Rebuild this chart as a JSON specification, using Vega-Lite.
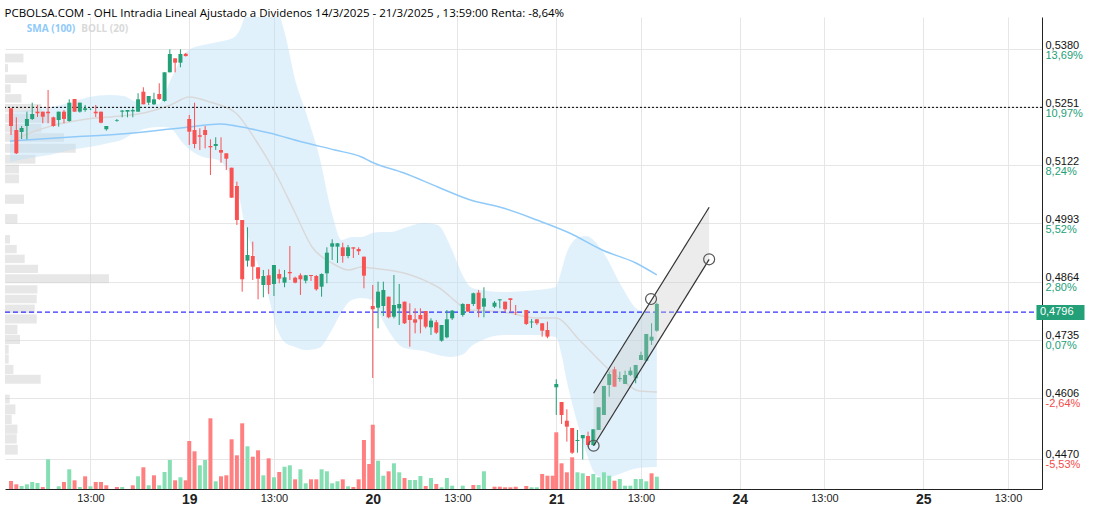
{
"$schema": "https://vega.github.io/schema/vega-lite/v6.json",
"autosize": {"type": "none"},
"width": 1037,
"height": 472,
"padding": {"left": 5, "top": 17, "right": 54, "bottom": 23},
"background": "white",
"title": {"text": "PCBOLSA.COM - OHL Intradia Lineal Ajustado a Dividenos 14/3/2025 - 21/3/2025 , 13:59:00 Renta: -8,64%", "anchor": "start", "font": "Open Sans", "fontSize": 11.5, "fontWeight": "normal", "color": "#000", "offset": -2},
"config": {"view": {"stroke": null}, "font": "Liberation Sans"},
"datasets": {
"candles": [
{"t":15,"o":0.52489,"h":0.52489,"l":0.51896,"c":0.52096},
{"t":30,"o":0.52007,"h":0.52289,"l":0.51474,"c":0.51489},
{"t":45,"o":0.51963,"h":0.52096,"l":0.51807,"c":0.52052},
{"t":60,"o":0.52096,"h":0.52414,"l":0.518,"c":0.52252},
{"t":75,"o":0.52252,"h":0.52614,"l":0.52229,"c":0.52363},
{"t":90,"o":0.52414,"h":0.52563,"l":0.52296,"c":0.52378},
{"t":105,"o":0.52414,"h":0.52414,"l":0.52156,"c":0.52303},
{"t":120,"o":0.52414,"h":0.52896,"l":0.52156,"c":0.52378},
{"t":135,"o":0.52289,"h":0.52303,"l":0.52081,"c":0.52096},
{"t":150,"o":0.52229,"h":0.52414,"l":0.52081,"c":0.52414},
{"t":165,"o":0.52414,"h":0.52452,"l":0.52156,"c":0.52252},
{"t":180,"o":0.52207,"h":0.52689,"l":0.52192,"c":0.52614},
{"t":195,"o":0.52696,"h":0.52696,"l":0.52414,"c":0.52414},
{"t":210,"o":0.52414,"h":0.52614,"l":0.52392,"c":0.52614},
{"t":225,"o":0.52452,"h":0.52563,"l":0.52414,"c":0.52489},
{"t":240,"o":0.5247,"h":0.5249,"l":0.5245,"c":0.52475},
{"t":255,"o":0.52414,"h":0.52563,"l":0.52296,"c":0.52378},
{"t":270,"o":0.52414,"h":0.52414,"l":0.52156,"c":0.52169},
{"t":285,"o":0.52023,"h":0.52096,"l":0.51992,"c":0.52096},
{"t":315,"o":0.5221,"h":0.5225,"l":0.5219,"c":0.52225},
{"t":330,"o":0.52414,"h":0.52452,"l":0.52289,"c":0.52438},
{"t":345,"o":0.52414,"h":0.52452,"l":0.52289,"c":0.52452},
{"t":360,"o":0.5242,"h":0.52489,"l":0.52289,"c":0.5245},
{"t":375,"o":0.52414,"h":0.52823,"l":0.52414,"c":0.52689},
{"t":390,"o":0.52858,"h":0.52956,"l":0.52578,"c":0.52578},
{"t":405,"o":0.52614,"h":0.52763,"l":0.52563,"c":0.52763},
{"t":420,"o":0.52578,"h":0.52836,"l":0.52563,"c":0.52689},
{"t":435,"o":0.52807,"h":0.53045,"l":0.52674,"c":0.52696},
{"t":450,"o":0.52652,"h":0.53289,"l":0.52636,"c":0.53289},
{"t":465,"o":0.53289,"h":0.538,"l":0.53289,"c":0.53696},
{"t":480,"o":0.536,"h":0.536,"l":0.53289,"c":0.53503},
{"t":495,"o":0.53503,"h":0.538,"l":0.534,"c":0.53696},
{"t":510,"o":0.537,"h":0.5372,"l":0.5364,"c":0.5365},
{"t":520,"o":0.52252,"h":0.5234,"l":0.51674,"c":0.51969},
{"t":535,"o":0.52007,"h":0.52614,"l":0.516,"c":0.51696},
{"t":550,"o":0.51889,"h":0.52045,"l":0.51563,"c":0.51858},
{"t":565,"o":0.52007,"h":0.52096,"l":0.516,"c":0.51896},
{"t":580,"o":0.51652,"h":0.518,"l":0.51007,"c":0.51622},
{"t":595,"o":0.51652,"h":0.51845,"l":0.51563,"c":0.51696},
{"t":610,"o":0.51563,"h":0.51845,"l":0.5128,"c":0.51503},
{"t":625,"o":0.51489,"h":0.51489,"l":0.51118,"c":0.51369},
{"t":640,"o":0.51169,"h":0.51169,"l":0.50503,"c":0.50503},
{"t":655,"o":0.50763,"h":0.50858,"l":0.49896,"c":0.50007},
{"t":670,"o":0.50007,"h":0.50007,"l":0.48414,"c":0.48689},
{"t":685,"o":0.49103,"h":0.49845,"l":0.48969,"c":0.49229},
{"t":700,"o":0.49207,"h":0.49525,"l":0.48674,"c":0.48969},
{"t":715,"o":0.48956,"h":0.48956,"l":0.48245,"c":0.48703},
{"t":730,"o":0.48563,"h":0.48896,"l":0.48289,"c":0.48763},
{"t":745,"o":0.48778,"h":0.48911,"l":0.48363,"c":0.48563},
{"t":760,"o":0.48585,"h":0.49007,"l":0.48318,"c":0.49007},
{"t":775,"o":0.48807,"h":0.48911,"l":0.486,"c":0.48703},
{"t":790,"o":0.48614,"h":0.48896,"l":0.48512,"c":0.48733},
{"t":805,"o":0.48852,"h":0.49429,"l":0.48674,"c":0.48822},
{"t":820,"o":0.48725,"h":0.48747,"l":0.486,"c":0.48614},
{"t":835,"o":0.48778,"h":0.48822,"l":0.48341,"c":0.48689},
{"t":850,"o":0.48659,"h":0.48785,"l":0.486,"c":0.48778},
{"t":865,"o":0.48785,"h":0.48785,"l":0.48652,"c":0.48763},
{"t":880,"o":0.48763,"h":0.48785,"l":0.48436,"c":0.48467},
{"t":895,"o":0.48525,"h":0.48822,"l":0.48303,"c":0.48807},
{"t":910,"o":0.48822,"h":0.494,"l":0.486,"c":0.49281},
{"t":925,"o":0.49414,"h":0.49578,"l":0.49118,"c":0.49489},
{"t":940,"o":0.49414,"h":0.49496,"l":0.49052,"c":0.49489},
{"t":955,"o":0.494,"h":0.49503,"l":0.49059,"c":0.49207},
{"t":970,"o":0.49207,"h":0.49452,"l":0.49156,"c":0.494},
{"t":985,"o":0.494,"h":0.494,"l":0.49163,"c":0.4937},
{"t":1000,"o":0.49363,"h":0.494,"l":0.49229,"c":0.49312},
{"t":1015,"o":0.49192,"h":0.49192,"l":0.48489,"c":0.4877},
{"t":1040,"o":0.48096,"h":0.48563,"l":0.46496,"c":0.48023},
{"t":1055,"o":0.48058,"h":0.48636,"l":0.476,"c":0.48414},
{"t":1070,"o":0.48096,"h":0.48636,"l":0.47874,"c":0.48452},
{"t":1085,"o":0.48303,"h":0.48303,"l":0.47822,"c":0.47845},
{"t":1100,"o":0.47859,"h":0.48785,"l":0.47822,"c":0.48118},
{"t":1115,"o":0.48045,"h":0.48585,"l":0.47674,"c":0.48141},
{"t":1130,"o":0.48192,"h":0.48192,"l":0.47696,"c":0.47712},
{"t":1145,"o":0.47896,"h":0.48156,"l":0.47192,"c":0.47785},
{"t":1160,"o":0.478,"h":0.48045,"l":0.47489,"c":0.47725},
{"t":1175,"o":0.47896,"h":0.48045,"l":0.47489,"c":0.478},
{"t":1190,"o":0.47985,"h":0.47985,"l":0.476,"c":0.47636},
{"t":1205,"o":0.47622,"h":0.47822,"l":0.47452,"c":0.4777},
{"t":1220,"o":0.47734,"h":0.47785,"l":0.47474,"c":0.47503},
{"t":1235,"o":0.47325,"h":0.47674,"l":0.47303,"c":0.47674},
{"t":1250,"o":0.474,"h":0.48007,"l":0.47378,"c":0.478},
{"t":1265,"o":0.47822,"h":0.48007,"l":0.47785,"c":0.47992},
{"t":1295,"o":0.47896,"h":0.48156,"l":0.47859,"c":0.48141},
{"t":1310,"o":0.48141,"h":0.48141,"l":0.4797,"c":0.4797},
{"t":1325,"o":0.48141,"h":0.48392,"l":0.48096,"c":0.48378},
{"t":1340,"o":0.48392,"h":0.48452,"l":0.47845,"c":0.48023},
{"t":1355,"o":0.48081,"h":0.48512,"l":0.47845,"c":0.48267},
{"t":1385,"o":0.48081,"h":0.48207,"l":0.48052,"c":0.4817},
{"t":1400,"o":0.48222,"h":0.48244,"l":0.48045,"c":0.48244},
{"t":1415,"o":0.48192,"h":0.48192,"l":0.4797,"c":0.48023},
{"t":1430,"o":0.48267,"h":0.48267,"l":0.4797,"c":0.48229},
{"t":1445,"o":0.4795,"h":0.48118,"l":0.47896,"c":0.4794},
{"t":1475,"o":0.48007,"h":0.48007,"l":0.47674,"c":0.47696},
{"t":1490,"o":0.4773,"h":0.47807,"l":0.47607,"c":0.4775},
{"t":1505,"o":0.478,"h":0.478,"l":0.47674,"c":0.47712},
{"t":1520,"o":0.47712,"h":0.47712,"l":0.47414,"c":0.47547},
{"t":1535,"o":0.47563,"h":0.47748,"l":0.47378,"c":0.47414},
{"t":1560,"o":0.46289,"h":0.46467,"l":0.45674,"c":0.46363},
{"t":1575,"o":0.45963,"h":0.45963,"l":0.45474,"c":0.45674},
{"t":1590,"o":0.45547,"h":0.458,"l":0.45081,"c":0.45414},
{"t":1605,"o":0.45385,"h":0.45385,"l":0.44807,"c":0.44836},
{"t":1620,"o":0.45096,"h":0.45341,"l":0.44836,"c":0.45118},
{"t":1635,"o":0.45156,"h":0.45229,"l":0.44685,"c":0.45229},
{"t":1650,"o":0.45207,"h":0.45303,"l":0.4497,"c":0.45007},
{"t":1665,"o":0.45007,"h":0.45356,"l":0.44985,"c":0.45356},
{"t":1680,"o":0.45341,"h":0.45845,"l":0.45341,"c":0.45845},
{"t":1695,"o":0.45674,"h":0.46318,"l":0.45674,"c":0.46318},
{"t":1710,"o":0.46341,"h":0.46636,"l":0.46081,"c":0.46585},
{"t":1725,"o":0.46689,"h":0.46747,"l":0.46303,"c":0.46303},
{"t":1740,"o":0.46474,"h":0.46636,"l":0.46414,"c":0.46496},
{"t":1755,"o":0.46363,"h":0.46659,"l":0.46363,"c":0.46563},
{"t":1770,"o":0.46563,"h":0.46733,"l":0.4654,"c":0.46659},
{"t":1785,"o":0.46489,"h":0.46785,"l":0.46378,"c":0.46785},
{"t":1800,"o":0.46896,"h":0.47081,"l":0.46896,"c":0.47007},
{"t":1815,"o":0.46881,"h":0.47474,"l":0.46881,"c":0.47474},
{"t":1830,"o":0.47325,"h":0.47711,"l":0.47229,"c":0.47414},
{"t":1845,"o":0.47547,"h":0.4817,"l":0.47524,"c":0.48141}
],
"vol": [
{"t":15,"v":160,"up":false},{"t":30,"v":94,"up":false},{"t":45,"v":60,"up":true},{"t":60,"v":94,"up":true},{"t":75,"v":140,"up":true},{"t":90,"v":120,"up":true},{"t":105,"v":40,"up":false},{"t":120,"v":594,"up":true},{"t":150,"v":54,"up":true},{"t":165,"v":140,"up":false},{"t":180,"v":394,"up":true},{"t":195,"v":174,"up":false},{"t":210,"v":40,"up":true},{"t":225,"v":254,"up":false},{"t":240,"v":54,"up":true},{"t":255,"v":140,"up":false},{"t":270,"v":140,"up":false},{"t":285,"v":74,"up":false},{"t":315,"v":40,"up":false},{"t":330,"v":40,"up":true},{"t":360,"v":74,"up":false},{"t":375,"v":254,"up":true},{"t":390,"v":434,"up":false},{"t":405,"v":74,"up":true},{"t":420,"v":274,"up":false},{"t":435,"v":74,"up":true},{"t":450,"v":340,"up":true},{"t":465,"v":580,"up":true},{"t":480,"v":174,"up":false},{"t":495,"v":234,"up":true},{"t":510,"v":174,"up":false},
{"t":520,"v":960,"up":false},{"t":535,"v":754,"up":false},{"t":550,"v":474,"up":true},{"t":565,"v":580,"up":true},{"t":580,"v":1414,"up":false},{"t":595,"v":154,"up":true},{"t":610,"v":254,"up":false},{"t":625,"v":274,"up":false},{"t":640,"v":994,"up":false},{"t":655,"v":674,"up":false},{"t":670,"v":1314,"up":false},{"t":685,"v":854,"up":true},{"t":700,"v":646,"up":false},{"t":715,"v":774,"up":false},{"t":730,"v":274,"up":true},{"t":745,"v":614,"up":false},{"t":760,"v":234,"up":true},{"t":775,"v":340,"up":false},{"t":790,"v":446,"up":true},{"t":805,"v":474,"up":true},{"t":820,"v":194,"up":false},{"t":835,"v":394,"up":true},{"t":850,"v":114,"up":true},{"t":865,"v":194,"up":false},{"t":880,"v":194,"up":false},{"t":895,"v":394,"up":true},{"t":910,"v":354,"up":true},{"t":925,"v":114,"up":true},{"t":940,"v":154,"up":true},{"t":955,"v":194,"up":false},{"t":970,"v":54,"up":true},{"t":985,"v":40,"up":false},{"t":1000,"v":194,"up":false},{"t":1015,"v":980,"up":false},{"t":1030,"v":500,"up":false},
{"t":1040,"v":1286,"up":false},{"t":1055,"v":566,"up":true},{"t":1070,"v":266,"up":true},{"t":1085,"v":354,"up":false},{"t":1100,"v":514,"up":true},{"t":1115,"v":334,"up":true},{"t":1130,"v":220,"up":false},{"t":1145,"v":180,"up":true},{"t":1160,"v":180,"up":true},{"t":1175,"v":260,"up":true},{"t":1190,"v":60,"up":false},{"t":1205,"v":220,"up":true},{"t":1220,"v":100,"up":false},{"t":1235,"v":34,"up":true},{"t":1250,"v":220,"up":true},{"t":1265,"v":66,"up":true},{"t":1295,"v":66,"up":true},{"t":1325,"v":80,"up":false},{"t":1340,"v":80,"up":true},{"t":1355,"v":354,"up":true},{"t":1385,"v":46,"up":false},{"t":1400,"v":46,"up":false},{"t":1415,"v":34,"up":false},{"t":1430,"v":34,"up":false},{"t":1445,"v":46,"up":false},{"t":1475,"v":60,"up":false},{"t":1490,"v":34,"up":true},{"t":1505,"v":34,"up":true},{"t":1520,"v":300,"up":false},{"t":1535,"v":266,"up":false},{"t":1550,"v":266,"up":false},
{"t":1560,"v":1134,"up":false},{"t":1575,"v":514,"up":false},{"t":1590,"v":334,"up":false},{"t":1605,"v":634,"up":false},{"t":1620,"v":334,"up":true},{"t":1635,"v":314,"up":true},{"t":1650,"v":260,"up":false},{"t":1665,"v":300,"up":true},{"t":1680,"v":234,"up":true},{"t":1695,"v":334,"up":true},{"t":1710,"v":266,"up":true},{"t":1725,"v":166,"up":false},{"t":1740,"v":200,"up":true},{"t":1755,"v":66,"up":true},{"t":1770,"v":66,"up":true},{"t":1785,"v":200,"up":true},{"t":1800,"v":200,"up":true},{"t":1815,"v":154,"up":true},{"t":1830,"v":314,"up":false},{"t":1845,"v":246,"up":true}
],
"band": [
{"t":12,"u":0.52407,"l":0.51296},{"t":68.2,"u":0.52451,"l":0.51385},{"t":124.3,"u":0.52518,"l":0.51451},{"t":180.4,"u":0.52607,"l":0.51562},{"t":236.6,"u":0.5274,"l":0.51629},{"t":292.7,"u":0.52785,"l":0.51718},{"t":334.8,"u":0.52762,"l":0.51807},{"t":362.8,"u":0.52651,"l":0.5194},{"t":404.9,"u":0.52585,"l":0.52051},{"t":433,"u":0.52585,"l":0.52073},{"t":447,"u":0.5274,"l":0.52073},{"t":466.7,"u":0.53118,"l":0.52051},{"t":480.7,"u":0.5334,"l":0.5194},{"t":494.7,"u":0.53562,"l":0.51785},{"t":522.8,"u":0.53807,"l":0.51562},{"t":559.3,"u":0.53896,"l":0.51407},{"t":601.4,"u":0.53962,"l":0.5134},{"t":643.5,"u":0.54051,"l":0.50896},{"t":663.1,"u":0.54229,"l":0.50451},{"t":677.2,"u":0.54518,"l":0.49896},{"t":699.6,"u":0.54785,"l":0.4934},{"t":741.7,"u":0.54896,"l":0.48385},{"t":769.7,"u":0.54674,"l":0.47563},{"t":792.2,"u":0.54118,"l":0.47274},{"t":820.2,"u":0.53118,"l":0.47185},{"t":848.3,"u":0.52451,"l":0.47118},{"t":887.6,"u":0.51451,"l":0.47163},{"t":924.1,"u":0.50162,"l":0.47563},{"t":952.1,"u":0.49562,"l":0.47963},{"t":980.2,"u":0.49629,"l":0.48229},{"t":1008.2,"u":0.49629,"l":0.48274},{"t":1039.1,"u":0.49718,"l":0.48229},{"t":1064.4,"u":0.4974,"l":0.47829},{"t":1092.4,"u":0.4974,"l":0.47452},{"t":1128.9,"u":0.49829,"l":0.47163},{"t":1185,"u":0.4994,"l":0.47096},{"t":1224.3,"u":0.49896,"l":0.47007},{"t":1260.8,"u":0.49407,"l":0.46963},{"t":1297.3,"u":0.4874,"l":0.47029},{"t":1316.9,"u":0.48518,"l":0.47185},{"t":1345,"u":0.48451,"l":0.47318},{"t":1409.5,"u":0.48407,"l":0.47452},{"t":1505,"u":0.48451,"l":0.47452},{"t":1558.3,"u":0.48518,"l":0.47407},{"t":1575.1,"u":0.48896,"l":0.47007},{"t":1589.2,"u":0.49274,"l":0.46451},{"t":1606,"u":0.49518,"l":0.45896},{"t":1625.6,"u":0.49629,"l":0.4534},{"t":1645.3,"u":0.49652,"l":0.44829},{"t":1673.3,"u":0.49496,"l":0.4434},{"t":1701.4,"u":0.49185,"l":0.44274},{"t":1746.3,"u":0.48518,"l":0.44385},{"t":1794,"u":0.48007,"l":0.44496},{"t":1845,"u":0.4794,"l":0.44518}
],
"mid": [
{"t":12,"m":0.5174},{"t":54.2,"m":0.51896},{"t":138.3,"m":0.52118},{"t":230.9,"m":0.52251},{"t":326.4,"m":0.52318},{"t":390.9,"m":0.52385},{"t":466.7,"m":0.52562},{"t":520,"m":0.5274},{"t":578.9,"m":0.52629},{"t":651.9,"m":0.52385},{"t":708,"m":0.51785},{"t":764.1,"m":0.51051},{"t":820.2,"m":0.50162},{"t":868,"m":0.49407},{"t":924.1,"m":0.49051},{"t":971.8,"m":0.48896},{"t":1008.2,"m":0.48962},{"t":1036.3,"m":0.4894},{"t":1128.9,"m":0.48829},{"t":1224.3,"m":0.48518},{"t":1316.9,"m":0.48007},{"t":1409.5,"m":0.47963},{"t":1505,"m":0.47829},{"t":1558.3,"m":0.47829},{"t":1625.6,"m":0.4734},{"t":1701.4,"m":0.4674},{"t":1746.3,"m":0.46451},{"t":1794,"m":0.46207},{"t":1845,"m":0.46185}
],
"sma": [
{"t":12,"s":0.51762},{"t":186,"s":0.51851},{"t":326.4,"s":0.51918},{"t":466.7,"s":0.52029},{"t":520,"s":0.52073},{"t":607,"s":0.5214},{"t":651.9,"s":0.52096},{"t":747.3,"s":0.5194},{"t":839.9,"s":0.5174},{"t":932.5,"s":0.51562},{"t":1008.2,"s":0.51407},{"t":1036.3,"s":0.51296},{"t":1128.9,"s":0.51051},{"t":1224.3,"s":0.5074},{"t":1316.9,"s":0.50451},{"t":1409.5,"s":0.50273},{"t":1505,"s":0.50007},{"t":1597.6,"s":0.49718},{"t":1690.2,"s":0.4934},{"t":1785.6,"s":0.49051},{"t":1845,"s":0.48785}
],
"profile": [
{"hi":0.538,"lo":0.536,"v":18.4},{"hi":0.53562,"lo":0.53378,"v":3},{"hi":0.53325,"lo":0.53133,"v":21.7},{"hi":0.53102,"lo":0.52911,"v":5.7},{"hi":0.5288,"lo":0.52689,"v":16.4},{"hi":0.52658,"lo":0.52467,"v":36.4},{"hi":0.52436,"lo":0.52229,"v":45},{"hi":0.522,"lo":0.52007,"v":36.4},{"hi":0.51991,"lo":0.518,"v":59},{"hi":0.51756,"lo":0.51547,"v":70.7},{"hi":0.51502,"lo":0.51302,"v":30.4},{"hi":0.5128,"lo":0.5108,"v":14},{"hi":0.51058,"lo":0.50858,"v":14},{"hi":0.506,"lo":0.50391,"v":19},{"hi":0.50156,"lo":0.49947,"v":12.4},{"hi":0.4968,"lo":0.49489,"v":5},{"hi":0.49458,"lo":0.49267,"v":11.7},{"hi":0.49236,"lo":0.49044,"v":19.7},{"hi":0.49007,"lo":0.48822,"v":33},{"hi":0.48791,"lo":0.48585,"v":104},{"hi":0.4854,"lo":0.48356,"v":32.4},{"hi":0.48325,"lo":0.48133,"v":31.7},{"hi":0.48102,"lo":0.47911,"v":29.7},{"hi":0.4788,"lo":0.47673,"v":31.7},{"hi":0.47644,"lo":0.47429,"v":12.4},{"hi":0.47413,"lo":0.47207,"v":15},{"hi":0.47191,"lo":0.46984,"v":3.7},{"hi":0.46969,"lo":0.46762,"v":3.7},{"hi":0.46733,"lo":0.46525,"v":8.4},{"hi":0.46512,"lo":0.46303,"v":35.7},{"hi":0.46058,"lo":0.45858,"v":4.7},{"hi":0.45836,"lo":0.45613,"v":10.4},{"hi":0.456,"lo":0.45391,"v":6.7},{"hi":0.45378,"lo":0.45169,"v":12.4},{"hi":0.45156,"lo":0.44947,"v":11.7},{"hi":0.44918,"lo":0.44696,"v":12.7}
],
"chan": [{"t":1665.8,"up":0.46156,"lo":0.44991},{"t":1993.2,"up":0.50289,"lo":0.49133}],
"circ": [{"t":1665.8,"p":0.44991},{"t":1828.5,"p":0.48251},{"t":1993.2,"p":0.49133}]
},
"layer": [
{
"data": {"name": "profile"},
"mark": {"type": "bar", "orient": "horizontal", "color": "#cfcfcf", "opacity": 0.5},
"encoding": {
"x": {"field": "v", "type": "quantitative", "scale": {"domain": [0, 1037], "nice": false}, "axis": null},
"y": {"field": "hi", "type": "quantitative", "scale": {"domain": [0.44029, 0.54518], "nice": false, "zero": false}, "axis": null},
"y2": {"field": "lo"}
}
},
{
"layer": [
{
"layer": [
{
"data": {"name": "band"},
"mark": {"type": "area", "color": "#bde0f8", "opacity": 0.45, "clip": true, "interpolate": "monotone"},
"encoding": {
"x": {"field": "t", "type": "quantitative", "scale": {"domain": [12.07, 2922.2], "nice": false, "zero": false},
"axis": {"title": null, "orient": "bottom", "values": [240, 520, 760, 1040, 1280, 1560, 1800, 2080, 2320, 2600, 2840],
"labelExpr": "datum.value == 520 ? '19' : datum.value == 1040 ? '20' : datum.value == 1560 ? '21' : datum.value == 2080 ? '24' : datum.value == 2600 ? '25' : '13:00'",
"grid": true, "gridColor": "#e6e6e6", "domainColor": "#222", "ticks": false, "labelPadding": 3, "labelFont": "Liberation Sans", "labelColor": "#222", "labelFlush": false, "labelOverlap": false,
"labelFontWeight": {"condition": {"test": "datum.value % 520 == 0", "value": "bold"}, "value": "normal"},
"labelFontSize": {"condition": {"test": "datum.value % 520 == 0", "value": 14}, "value": 11}}},
"y": {"field": "u", "type": "quantitative", "scale": {"domain": [0.44029, 0.54518], "nice": false, "zero": false},
"axis": {"title": null, "orient": "right", "values": [0.538, 0.5251, 0.5122, 0.4993, 0.4864, 0.4735, 0.4606, 0.447],
"labelExpr": "replace(format(datum.value, '.4f'), '.', ',')",
"grid": true, "gridColor": "#e6e6e6", "domainColor": "#222", "ticks": false, "labelPadding": 3, "labelFont": "Liberation Sans", "labelFontSize": 11, "labelColor": "#111", "labelBaseline": "alphabetic", "labelOffset": -1, "labelOverlap": false, "labelFlush": false}},
"y2": {"field": "l"}
}
},
{
"data": {"name": "mid"},
"mark": {"type": "line", "color": "#d9d9d9", "strokeWidth": 1.5, "interpolate": "monotone"},
"encoding": {"x": {"field": "t", "type": "quantitative"}, "y": {"field": "m", "type": "quantitative"}}
},
{
"data": {"name": "sma"},
"mark": {"type": "line", "color": "#90caf9", "strokeWidth": 1.5, "interpolate": "monotone"},
"encoding": {"x": {"field": "t", "type": "quantitative"}, "y": {"field": "s", "type": "quantitative"}}
},
{
"data": {"values": [{"p": 0.5251}]},
"mark": {"type": "rule", "color": "#000", "strokeDash": [2, 2], "strokeWidth": 1},
"encoding": {"y": {"field": "p", "type": "quantitative"}}
},
{
"data": {"values": [{"p": 0.4796}]},
"mark": {"type": "rule", "color": "#0000ff", "strokeDash": [5, 3], "strokeWidth": 1},
"encoding": {"y": {"field": "p", "type": "quantitative"}}
},
{
"data": {"name": "candles"},
"mark": {"type": "rule", "strokeWidth": 1},
"encoding": {
"x": {"field": "t", "type": "quantitative"},
"y": {"field": "l", "type": "quantitative"},
"y2": {"field": "h"},
"color": {"condition": {"test": "datum.c >= datum.o", "value": "#23a077"}, "value": "#f85353"}
}
},
{
"data": {"name": "candles"},
"mark": {"type": "bar", "width": 4},
"encoding": {
"x": {"field": "t", "type": "quantitative"},
"y": {"field": "o", "type": "quantitative"},
"y2": {"field": "c"},
"color": {"condition": {"test": "datum.c >= datum.o", "value": "#23a077"}, "value": "#f85353"}
}
},
{
"data": {"name": "chan"},
"mark": {"type": "area", "color": "#c8c8c8", "opacity": 0.35},
"encoding": {"x": {"field": "t", "type": "quantitative"}, "y": {"field": "up", "type": "quantitative"}, "y2": {"field": "lo"}}
},
{
"data": {"name": "chan"},
"mark": {"type": "line", "color": "#333", "strokeWidth": 1.2},
"encoding": {"x": {"field": "t", "type": "quantitative"}, "y": {"field": "up", "type": "quantitative"}}
},
{
"data": {"name": "chan"},
"mark": {"type": "line", "color": "#333", "strokeWidth": 1.2},
"encoding": {"x": {"field": "t", "type": "quantitative"}, "y": {"field": "lo", "type": "quantitative"}}
},
{
"data": {"name": "circ"},
"mark": {"type": "point", "shape": "circle", "size": 120, "filled": false, "color": "#555", "strokeWidth": 1.2, "opacity": 1},
"encoding": {"x": {"field": "t", "type": "quantitative"}, "y": {"field": "p", "type": "quantitative"}}
},
{
"data": {"values": [{"t": 59.8, "p": 0.54251, "label": "SMA (100)"}, {"t": 214, "p": 0.54251, "label": "BOLL (20)"}]},
"mark": {"type": "text", "align": "left", "baseline": "middle", "font": "Open Sans", "fontSize": 10, "fontWeight": "bold"},
"encoding": {
"x": {"field": "t", "type": "quantitative"},
"y": {"field": "p", "type": "quantitative"},
"text": {"field": "label", "type": "nominal"},
"color": {"condition": {"test": "datum.label == 'SMA (100)'", "value": "#90caf9"}, "value": "#d9d9d9"}
}
},
{
"data": {"values": [{"t1": 2920.7, "t2": 3056.8, "p1": 0.48118, "p2": 0.47785}]},
"mark": {"type": "rect", "color": "#23a077"},
"encoding": {"x": {"field": "t1", "type": "quantitative"}, "x2": {"field": "t2"}, "y": {"field": "p1", "type": "quantitative"}, "y2": {"field": "p2"}}
},
{
"data": {"values": [{"t": 2930.5, "p": 0.4796, "label": "0,4796"}]},
"mark": {"type": "text", "align": "left", "baseline": "middle", "font": "Liberation Sans", "fontSize": 11, "color": "white"},
"encoding": {"x": {"field": "t", "type": "quantitative"}, "y": {"field": "p", "type": "quantitative"}, "text": {"field": "label", "type": "nominal"}}
}
]
},
{
"data": {"values": [{"p": 0.4735}]},
"mark": {"type": "rule", "opacity": 0},
"encoding": {
"y": {"field": "p", "type": "quantitative",
"axis": {"title": null, "orient": "right", "values": [0.538, 0.5251, 0.5122, 0.4993, 0.4864, 0.4735, 0.4606, 0.447],
"labelExpr": "datum.value > 0.53 ? '13,69%' : datum.value > 0.52 ? '10,97%' : datum.value > 0.505 ? '8,24%' : datum.value > 0.49 ? '5,52%' : datum.value > 0.48 ? '2,80%' : datum.value > 0.47 ? '0,07%' : datum.value > 0.455 ? '-2,64%' : '-5,53%'",
"grid": false, "domain": false, "ticks": false, "labelPadding": 3, "labelFont": "Liberation Sans", "labelFontSize": 11, "labelBaseline": "top", "labelOverlap": false, "labelFlush": false,
"labelColor": {"condition": {"test": "datum.value < 0.47", "value": "#f44a4a"}, "value": "#23a077"}}}
}
}
],
"resolve": {"axis": {"y": "independent"}}
},
{
"data": {"name": "vol"},
"mark": {"type": "bar", "width": 4},
"encoding": {
"x": {"field": "t", "type": "quantitative", "scale": {"domain": [12.07, 2922.2], "nice": false, "zero": false}, "axis": null},
"y": {"field": "v", "type": "quantitative", "scale": {"domain": [0, 9440], "nice": false}, "axis": null},
"color": {"condition": {"test": "datum.up", "value": "#86dfb3"}, "value": "#ff8080"}
}
}
],
"resolve": {"scale": {"x": "independent", "y": "independent"}}
}
